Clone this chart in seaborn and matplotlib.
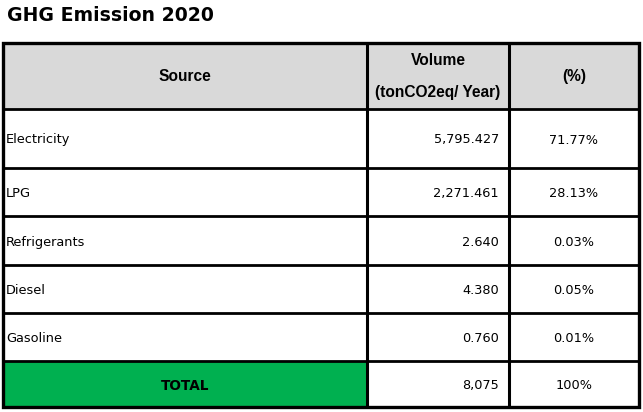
import matplotlib
matplotlib.use("Agg")
import matplotlib.pyplot as plt
from matplotlib.patches import Rectangle
import seaborn as sns

# table data
title = "GHG Emission 2020"
sources = ["Electricity", "LPG", "Refrigerants", "Diesel", "Gasoline"]
volumes = [5795.427, 2271.461, 2.640, 4.380, 0.760]
percents = [71.77, 28.13, 0.03, 0.05, 0.01]
total_volume = 8075
total_percent = 100

sns.set_theme(style="white")
plt.rcParams["font.family"] = ["DejaVu Sans"]
plt.rcParams["text.color"] = "black"

fig = plt.figure(figsize=(6.43, 4.12), dpi=100)
ax = fig.add_axes([0, 0, 1, 1])
ax.set_xlim(0, 643)
ax.set_ylim(412, 0)
ax.axis("off")

# layout in pixels
x0, x1, x2, x3 = 3, 367, 509, 639
row_edges = [43, 109, 168, 216, 265, 313, 361, 407]

# fills
ax.add_patch(Rectangle((x0, row_edges[0]), x3 - x0, row_edges[1] - row_edges[0],
                       facecolor="#d9d9d9", edgecolor="none"))
ax.add_patch(Rectangle((x0, row_edges[-2]), x1 - x0, row_edges[-1] - row_edges[-2],
                       facecolor="#00b050", edgecolor="none"))

# grid lines
ax.hlines(row_edges[1:-1], x0, x3, color="black", lw=2.0)
ax.vlines([x1, x2], row_edges[0], row_edges[-1], color="black", lw=2.2)
ax.add_patch(Rectangle((x0, row_edges[0]), x3 - x0, row_edges[-1] - row_edges[0],
                       facecolor="none", edgecolor="black", lw=2.4))

# title
ax.text(7, 15, title, fontsize=13.6, fontweight="bold", va="center", ha="left", color="black")

# header
hy = (row_edges[0] + row_edges[1]) / 2
hfont = dict(family="Liberation Sans", fontweight="bold", fontsize=11.2, color="black")
ax.text((x0 + x1) / 2, hy, "Source", ha="center", va="center", **hfont)
ax.text((x1 + x2) / 2, 60, "Volume", ha="center", va="center", **hfont)
ax.text((x1 + x2) / 2, 92, "(tonCO2eq/ Year)", ha="center", va="center", **hfont)
ax.text((x2 + x3) / 2, hy, "(%)", ha="center", va="center", **hfont)

# body rows
bfont = dict(fontsize=9.3, color="black")
for i, (s, v, p) in enumerate(zip(sources, volumes, percents)):
    cy = (row_edges[i + 1] + row_edges[i + 2]) / 2 + 1.5
    ax.text(x0 + 3, cy, s, ha="left", va="center", **bfont)
    ax.text(x2 - 10, cy, f"{v:,.3f}", ha="right", va="center", **bfont)
    ax.text((x2 + x3) / 2, cy, f"{p:.2f}%", ha="center", va="center", **bfont)

# total row
cy = (row_edges[-2] + row_edges[-1]) / 2 + 1.5
ax.text((x0 + x1) / 2, cy, "TOTAL", ha="center", va="center", fontsize=9.8,
        fontweight="bold", color="black")
ax.text(x2 - 10, cy, f"{total_volume:,.0f}", ha="right", va="center", **bfont)
ax.text((x2 + x3) / 2, cy, f"{total_percent}%", ha="center", va="center", **bfont)

fig.savefig("out.png", dpi=100)
